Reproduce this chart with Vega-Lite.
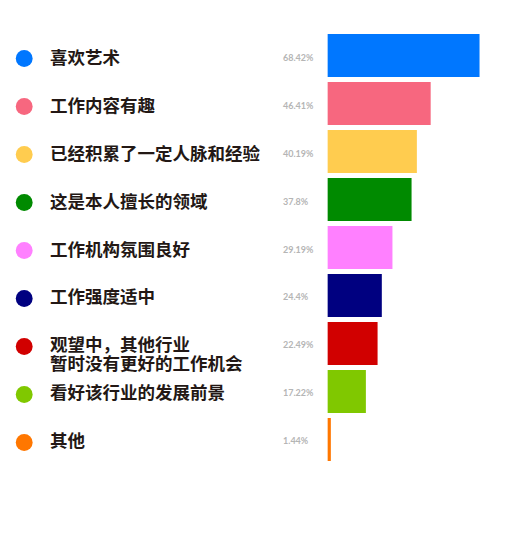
{
  "$schema": "https://vega.github.io/schema/vega-lite/v6.json",
  "width": 525,
  "height": 540,
  "autosize": {"type": "fit", "contains": "padding"},
  "padding": 0,
  "background": "white",
  "config": {"view": {"stroke": null}},
  "data": {
    "values": [
      {"reason": "喜欢艺术", "pct": 68.42, "label": "68.42%", "color": "#0077FF"},
      {"reason": "工作内容有趣", "pct": 46.41, "label": "46.41%", "color": "#F7677F"},
      {"reason": "已经积累了一定人脉和经验", "pct": 40.19, "label": "40.19%", "color": "#FFCC4F"},
      {"reason": "这是本人擅长的领域", "pct": 37.8, "label": "37.8%", "color": "#008A00"},
      {"reason": "工作机构氛围良好", "pct": 29.19, "label": "29.19%", "color": "#FF80FF"},
      {"reason": "工作强度适中", "pct": 24.4, "label": "24.4%", "color": "#000080"},
      {"reason": "观望中，其他行业\n暂时没有更好的工作机会", "pct": 22.49, "label": "22.49%", "color": "#D10000"},
      {"reason": "看好该行业的发展前景", "pct": 17.22, "label": "17.22%", "color": "#80C800"},
      {"reason": "其他", "pct": 1.44, "label": "1.44%", "color": "#FF7700"}
    ]
  },
  "encoding": {
    "y": {
      "field": "reason",
      "type": "nominal",
      "sort": null,
      "axis": null,
      "scale": {"range": [34, 461], "paddingInner": 0.104, "paddingOuter": 0}
    }
  },
  "layer": [
    {
      "mark": {"type": "bar", "cornerRadius": 0},
      "encoding": {
        "x": {
          "field": "pct",
          "type": "quantitative",
          "axis": null,
          "scale": {"domain": [-147.6, 88.9], "nice": false, "zero": false}
        },
        "color": {"field": "color", "type": "nominal", "scale": null}
      }
    },
    {
      "mark": {"type": "point", "shape": "circle", "filled": true, "size": 285, "opacity": 1, "yOffset": 3},
      "encoding": {
        "x": {"datum": -136.7},
        "color": {"field": "color", "type": "nominal", "scale": null}
      }
    },
    {
      "mark": {
        "type": "text",
        "align": "left",
        "baseline": "middle",
        "dy": 3,
        "font": "Noto Sans CJK SC",
        "fontWeight": "bold",
        "fontSize": 17.5,
        "lineBreak": "\n",
        "lineHeight": 19,
        "color": "#231815"
      },
      "encoding": {
        "x": {"datum": -125.1},
        "text": {"field": "reason", "type": "nominal"}
      }
    },
    {
      "mark": {
        "type": "text",
        "align": "left",
        "baseline": "middle",
        "dy": 2,
        "font": "Lato",
        "fontWeight": "bold",
        "fontSize": 9,
        "color": "#B5B5B5"
      },
      "encoding": {
        "x": {"datum": -20.1},
        "text": {"field": "label", "type": "nominal"}
      }
    }
  ]
}
